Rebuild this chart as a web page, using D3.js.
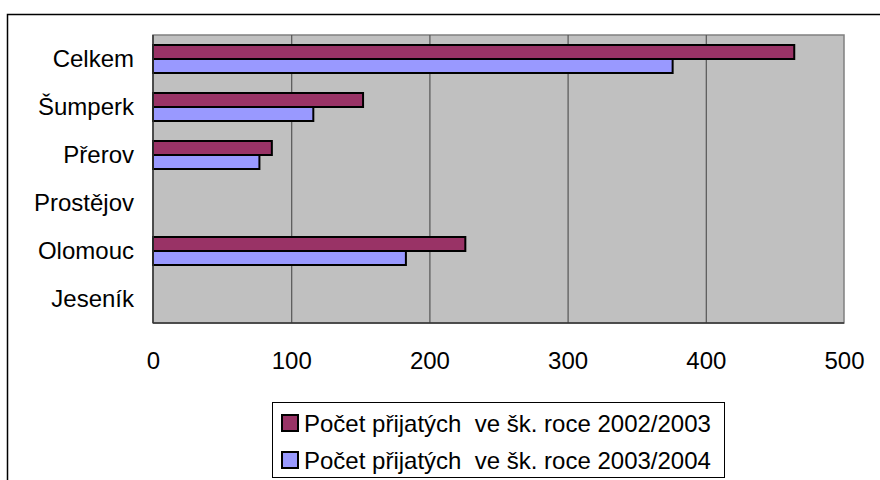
<!DOCTYPE html>
<html><head><meta charset="utf-8">
<script src="https://cdn.jsdelivr.net/npm/d3@7"></script>
<style>body{margin:0;background:#fff}svg{display:block;font-family:"Liberation Sans",Arial,sans-serif}</style>
</head><body>
<script>
const categories = ["Celkem","Šumperk","Přerov","Prostějov","Olomouc","Jeseník"];
const series1 = [464,152,86,0,226,0];
const series2 = [376,116,77,0,183,0];
const seriesNames = ["Počet přijatých  ve šk. roce 2002/2003","Počet přijatých  ve šk. roce 2003/2004"];
const tickValues = [0,100,200,300,400,500];
const colors = ["#993366","#9999FF"];

const W=880,H=480;
const svg=d3.select("body").append("svg").attr("width",W).attr("height",H);
svg.append("rect").attr("x",7.5).attr("y",14.5).attr("width",W).attr("height",H).attr("fill","#fff").attr("stroke","#000").attr("stroke-width",1.5);

const L=153,R=844,T=35,B=323;
const x=d3.scaleLinear().domain([0,500]).range([L,R]);
const y=d3.scaleBand().domain(categories).range([T,B]);
const inner=d3.scaleBand().domain([0,1]).range([y.bandwidth()/2-14,y.bandwidth()/2+14]);

svg.append("rect").attr("x",L).attr("y",T).attr("width",R-L).attr("height",B-T).attr("fill","#C0C0C0").attr("stroke","#808080").attr("stroke-width",1.5);

const grid=svg.append("g").attr("transform",`translate(0,${B})`)
  .call(d3.axisBottom(x).tickValues(tickValues.slice(1,5)).tickSize(-(B-T)).tickFormat(""));
grid.select(".domain").remove();
grid.selectAll("line").attr("stroke","#555").attr("stroke-width",1.2);

const data=categories.map((c,i)=>({c,v:[series1[i],series2[i]]}));
const g=svg.append("g");
data.forEach(d=>{
  d.v.forEach((v,k)=>{
    if(v<=0) return;
    g.append("rect").attr("x",x(0)).attr("y",y(d.c)+inner(k))
      .attr("width",x(v)-x(0)).attr("height",inner.bandwidth())
      .attr("fill",colors[k]).attr("stroke","#000").attr("stroke-width",2);
  });
});

svg.append("line").attr("x1",L).attr("x2",L).attr("y1",T).attr("y2",B).attr("stroke","#333").attr("stroke-width",1.5);
svg.append("line").attr("x1",L).attr("x2",R).attr("y1",B).attr("y2",B).attr("stroke","#333").attr("stroke-width",1.5);

const xa=svg.append("g").attr("transform",`translate(0,${B})`)
  .call(d3.axisBottom(x).tickValues(tickValues).tickSize(0).tickPadding(29));
xa.select(".domain").remove();
xa.selectAll("text").style("font-size","24px").attr("fill","#000");

const ya=svg.append("g").attr("transform",`translate(${L},0)`)
  .call(d3.axisLeft(y).tickSize(0).tickPadding(19));
ya.select(".domain").remove();
ya.selectAll("text").style("font-size","24px").attr("fill","#000");

const lg=svg.append("g");
lg.append("rect").attr("x",272.5).attr("y",402.5).attr("width",452).attr("height",75).attr("fill","#fff").attr("stroke","#000").attr("stroke-width",1);
seriesNames.forEach((n,i)=>{
  const cy=[423,460][i];
  lg.append("rect").attr("x",282).attr("y",cy-8).attr("width",16).attr("height",16).attr("fill",colors[i]).attr("stroke","#000").attr("stroke-width",2);
  lg.append("text").attr("x",304).attr("y",cy).attr("dy","0.36em").style("font-size","24px").style("white-space","pre").text(n);
});
</script>
</body></html>
